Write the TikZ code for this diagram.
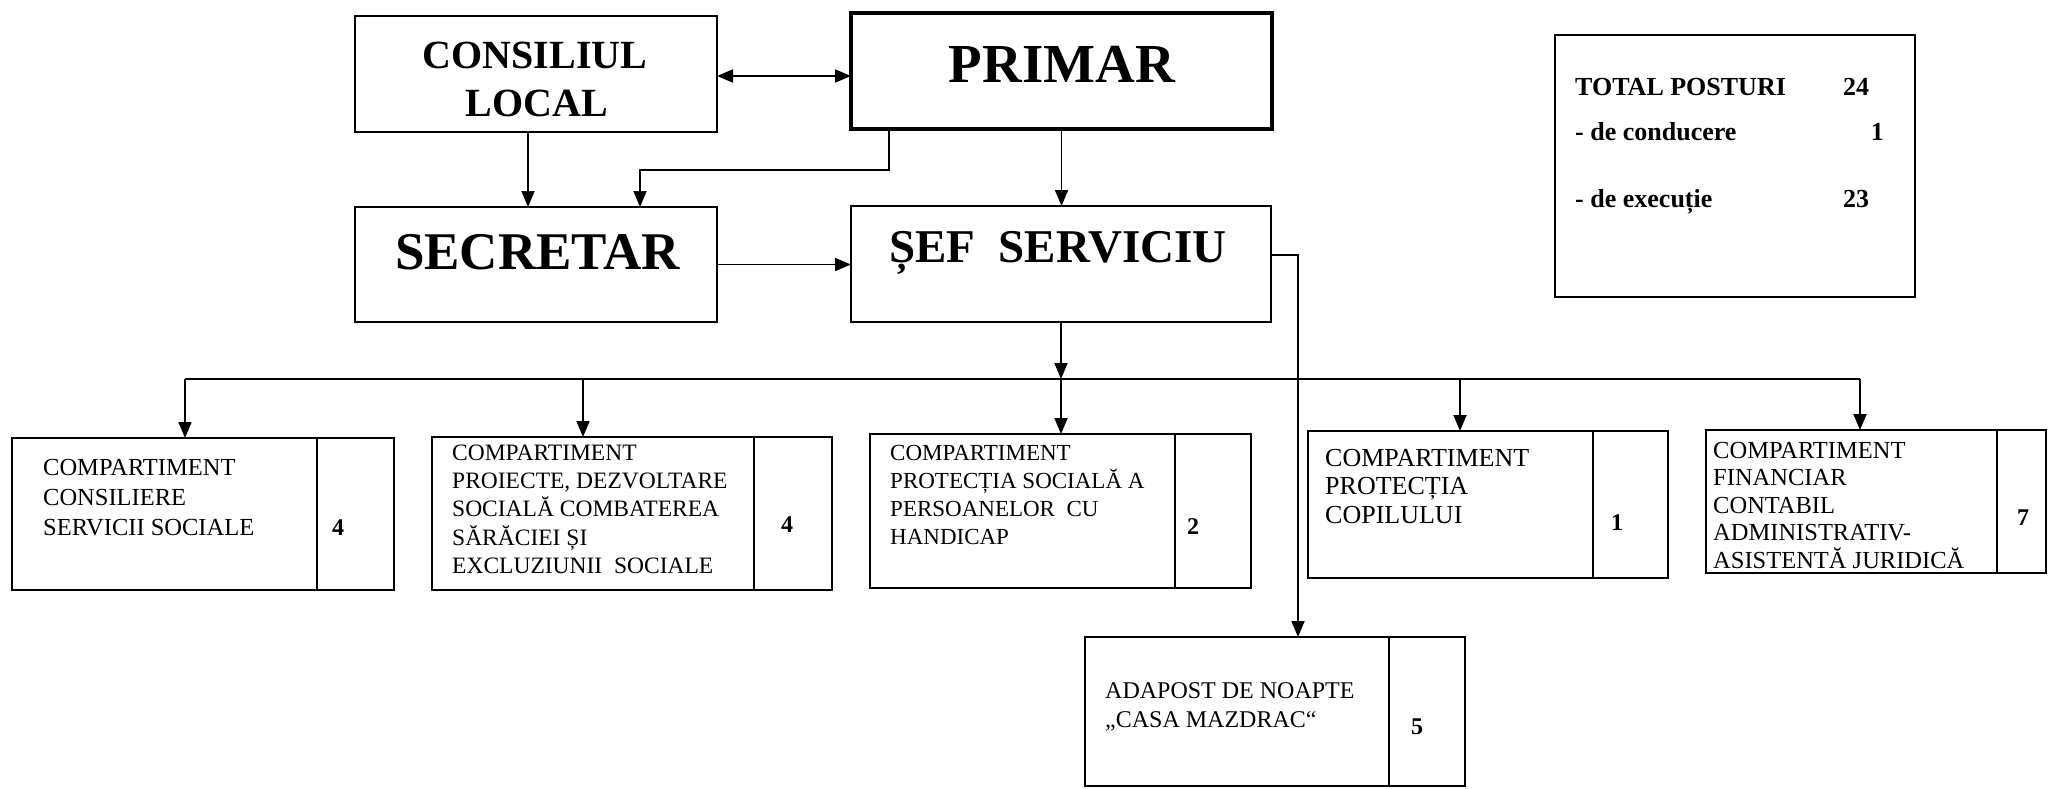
\documentclass[tikz,border=0pt]{standalone}
\usepackage{fontspec}
\setmainfont{Liberation Serif}
\usetikzlibrary{arrows.meta}
\tikzset{
  box/.style={draw, line width=2pt, rectangle, inner sep=0pt, outer sep=0pt},
  thickbox/.style={box, line width=4pt},
  conn/.style={line width=1.7pt},
  arr/.style={conn, -{Triangle[length=16pt,width=13pt]}},
  dblarr/.style={conn, {Triangle[length=16pt,width=13pt]}-{Triangle[length=16pt,width=13pt]}},
  hdr/.style={inner sep=0pt, anchor=base, font=\bfseries\fontsize{#1}{#1}\selectfont},
  ctext/.style n args={2}{inner sep=0pt, anchor=north west, align=left, font=\fontsize{#1}{#2}\selectfont},
  num/.style={inner sep=0pt, font=\bfseries\fontsize{24}{24}\selectfont},
  tot/.style={inner sep=0pt, font=\bfseries\fontsize{26}{26}\selectfont}
}
\begin{document}
\begin{tikzpicture}[x=1pt,y=-1pt]
\useasboundingbox (0,0) rectangle (2052,788);
\fill[white] (0,0) rectangle (2052,788);

% top boxes
\node[box, minimum width=362pt, minimum height=116pt] (cl) at (536,74) {};
\node[thickbox, minimum width=421pt, minimum height=116pt] (pr) at (1061.5,71) {};
\node[box, minimum width=362pt, minimum height=115pt] (se) at (536,264.5) {};
\node[box, minimum width=420pt, minimum height=116pt] (sf) at (1061,264) {};
\node[box, minimum width=360pt, minimum height=262pt] (tot) at (1735,166) {};

\node[hdr=40] (cl1) at (535,68) {CONSILIUL};
\node[hdr=40] (cl2) at (537,116) {LOCAL};
\node[hdr=55] (prt) at (1062,82) {PRIMAR};
\node[hdr=53] (set) at (537.5,269) {SECRETAR};
\node[hdr=47] (sft) at (1058,262) {ȘEF\ \ SERVICIU};

% total box
\node[tot, anchor=base west] (t1) at (1575,95) {TOTAL POSTURI};
\node[tot, anchor=base west] (t2) at (1575,140) {- de conducere};
\node[tot, anchor=base west] (t3) at (1575,207) {- de execuție};
\node[tot, anchor=base west] (t1n) at (1843,95) {24};
\node[tot, anchor=base east] (t2n) at (1884,140) {1};
\node[tot, anchor=base west] (t3n) at (1843,207) {23};

% compartments
\node[box, minimum width=382pt, minimum height=152pt] (c1) at (203,514) {};
\node[box, minimum width=77pt, minimum height=152pt] (c1c) at (355.5,514) {};
\node[ctext={24.5}{30}] (c1t) at (43,459) {COMPARTIMENT\\CONSILIERE\\SERVICII SOCIALE};
\node[num] (c1n) at (338,528) {4};

\node[box, minimum width=400pt, minimum height=153pt] (c2) at (632,513.5) {};
\node[box, minimum width=78pt, minimum height=153pt] (c2c) at (793,513.5) {};
\node[ctext={23.5}{28.3}] (c2t) at (452,444.6) {COMPARTIMENT\\PROIECTE, DEZVOLTARE\\SOCIALĂ COMBATEREA\\SĂRĂCIEI ȘI\\EXCLUZIUNII\ \ SOCIALE};
\node[num] (c2n) at (787,525) {4};

\node[box, minimum width=381pt, minimum height=154pt] (c3) at (1060.5,511) {};
\node[box, minimum width=76pt, minimum height=154pt] (c3c) at (1213,511) {};
\node[ctext={23}{28}] (c3t) at (890,445) {COMPARTIMENT\\PROTECȚIA SOCIALĂ A\\PERSOANELOR\ \ CU\\HANDICAP};
\node[num] (c3n) at (1193,527) {2};

\node[box, minimum width=360pt, minimum height=147pt] (c4) at (1488,504.5) {};
\node[box, minimum width=75pt, minimum height=147pt] (c4c) at (1630.5,504.5) {};
\node[ctext={26}{28.5}] (c4t) at (1325,449) {COMPARTIMENT\\PROTECȚIA\\COPILULUI};
\node[num] (c4n) at (1617,523) {1};

\node[box, minimum width=340pt, minimum height=143pt] (c5) at (1876,501.5) {};
\node[box, minimum width=49pt, minimum height=143pt] (c5c) at (2021.5,501.5) {};
\node[ctext={24.5}{27.4}] (c5t) at (1713,442) {COMPARTIMENT\\FINANCIAR\\CONTABIL\\ADMINISTRATIV-\\ASISTENTĂ JURIDICĂ};
\node[num] (c5n) at (2023,518) {7};

\node[box, minimum width=380pt, minimum height=149pt] (ad) at (1275,711.5) {};
\node[box, minimum width=76pt, minimum height=149pt] (adc) at (1427,711.5) {};
\node[ctext={24}{29}] (adt) at (1105,682.3) {ADAPOST DE NOAPTE\\„CASA MAZDRAC“};
\node[num] (adn) at (1417,727) {5};

% connectors
\draw[dblarr] ([yshift=-2pt]cl.east) -- ([yshift=-2pt]cl.east -| pr.west);
\draw[arr] ([xshift=-8pt]cl.south) -- ([xshift=-8pt]cl.south |- se.north);
\draw[arr] ([xshift=-172.5pt]pr.south) -- ++(0,41) -| ([xshift=104pt]se.north);
\draw[arr] (pr.south) -- (pr.south |- sf.north);
\draw[arr] (se.east) -- (se.east -| sf.west);

\coordinate (bj) at (1061,379);
\coordinate (bl) at (185,379);
\coordinate (b2) at (583,379);
\coordinate (b4) at (1460,379);
\coordinate (br) at (1860,379);
\draw[arr] (sf.south) -- (bj);
\draw[conn] (bl) -- (br);
\draw[arr] (bl) -- (bl |- c1.north);
\draw[arr] (b2) -- (b2 |- c2.north);
\draw[arr] (bj) -- (bj |- c3.north);
\draw[arr] (b4) -- (b4 |- c4.north);
\draw[arr] (br) -- (br |- c5.north);
\draw[arr] ([yshift=9pt]sf.east) -| ([xshift=23pt]ad.north);
\end{tikzpicture}
\end{document}
